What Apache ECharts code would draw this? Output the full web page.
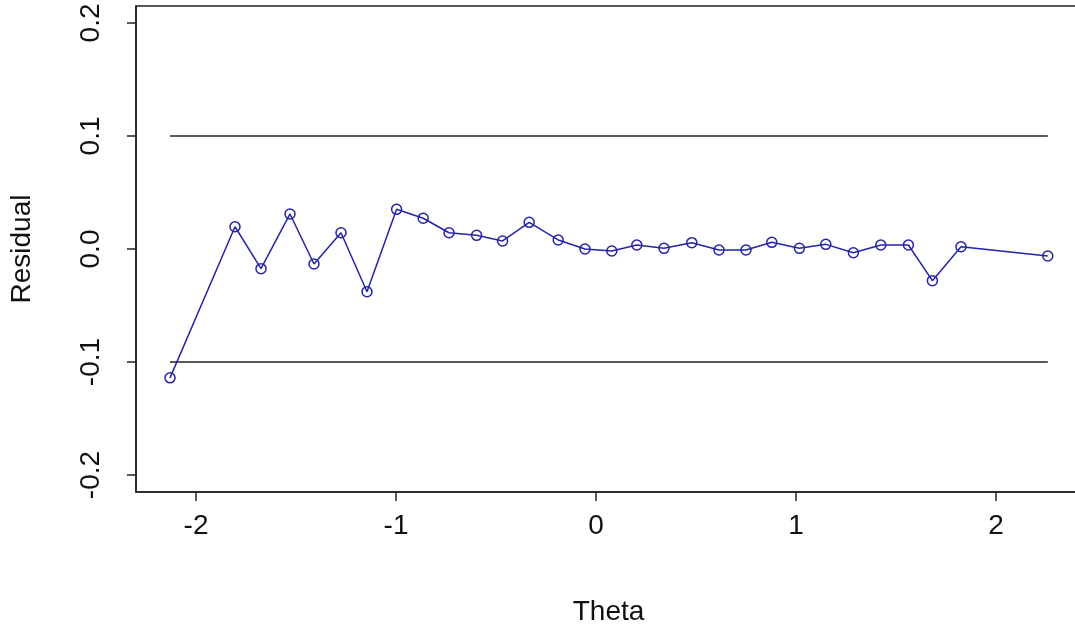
<!DOCTYPE html>
<html>
<head>
<meta charset="utf-8">
<script src="https://cdn.jsdelivr.net/npm/echarts@6/dist/echarts.min.js"></script>
<style>
html,body{margin:0;padding:0;background:#fff;overflow:hidden;width:1075px;height:631px;}
#chart{width:1087px;height:631px;}
</style>
</head>
<body>
<div id="chart"></div>
<script>
// Data
var theta = [-2.13, -1.805, -1.675, -1.53, -1.41, -1.275, -1.145, -0.997, -0.864, -0.735,
             -0.597, -0.467, -0.334, -0.189, -0.055, 0.079, 0.204, 0.34, 0.479, 0.615,
             0.75, 0.879, 1.017, 1.149, 1.287, 1.424, 1.562, 1.682, 1.825, 2.259];
var residual = [-0.114, 0.0197, -0.0174, 0.031, -0.0133, 0.0144, -0.0378, 0.0351, 0.0272, 0.0144,
                0.0121, 0.0071, 0.0236, 0.008, 0.0, -0.0018, 0.0035, 0.0006, 0.0056, -0.0009,
                -0.0009, 0.0059, 0.0006, 0.0041, -0.0033, 0.0035, 0.0035, -0.028, 0.002, -0.0062];
var boundX = [-2.13, 2.259];
var upperBound = [0.1, 0.1];
var lowerBound = [-0.1, -0.1];
var xTicks = [-2, -1, 0, 1, 2];
var yTicks = [-0.2, -0.1, 0.0, 0.1, 0.2];

var font = '"Liberation Sans", Arial, sans-serif';
var chart = echarts.init(document.getElementById('chart'), null, {renderer: 'canvas'});

function pairs(xs, ys) { return xs.map(function (x, i) { return [x, ys[i]]; }); }

chart.setOption({
  animation: false,
  backgroundColor: '#ffffff',
  grid: {left: 136, top: 6, right: 6, bottom: 139, show: true, borderColor: '#222', borderWidth: 1.5, backgroundColor: 'transparent'},
  xAxis: {
    type: 'value', min: -2.3, max: 2.425,
    name: 'Theta', nameLocation: 'middle', nameGap: 106,
    nameTextStyle: {fontFamily: font, fontSize: 28, color: '#111'},
    axisLine: {show: true, onZero: false, lineStyle: {color: '#222', width: 1.5}},
    axisTick: {show: true, length: 9, customValues: xTicks, lineStyle: {color: '#222', width: 1.5}},
    axisLabel: {customValues: xTicks, fontFamily: font, fontSize: 28, color: '#111', margin: 20,
      formatter: function (v) { return String(Math.round(v)); }},
    splitLine: {show: false}
  },
  yAxis: {
    type: 'value', min: -0.215, max: 0.215,
    name: 'Residual', nameLocation: 'middle', nameGap: 100, nameRotate: 90,
    nameTextStyle: {fontFamily: font, fontSize: 28, color: '#111'},
    axisLine: {show: true, onZero: false, lineStyle: {color: '#222', width: 1.5}},
    axisTick: {show: true, length: 9, customValues: yTicks, lineStyle: {color: '#222', width: 1.5}},
    axisLabel: {customValues: yTicks, rotate: 90, fontFamily: font, fontSize: 28, color: '#111', margin: 31,
      formatter: function (v) { var s = (Math.round(v * 10) / 10).toFixed(1); return s === '-0.0' ? '0.0' : s; }},
    splitLine: {show: false}
  },
  series: [
    {type: 'line', data: pairs(boundX, upperBound), symbol: 'none', silent: true,
     lineStyle: {color: '#222', width: 1.5}},
    {type: 'line', data: pairs(boundX, lowerBound), symbol: 'none', silent: true,
     lineStyle: {color: '#222', width: 1.5}},
    {type: 'line', data: pairs(theta, residual), symbol: 'circle', symbolSize: 10,
     itemStyle: {color: 'rgba(0,0,0,0)', borderColor: '#2424a8', borderWidth: 1.5},
     lineStyle: {color: '#2424a8', width: 1.5}}
  ]
});
</script>
</body>
</html>
